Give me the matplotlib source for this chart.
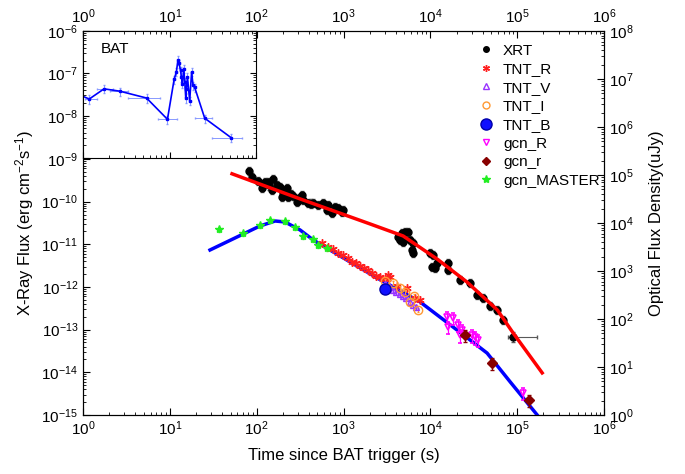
import numpy as np
import matplotlib
matplotlib.use('Agg')
import matplotlib.pyplot as plt
from matplotlib.lines import Line2D
from matplotlib.ticker import LogLocator, NullFormatter, FixedLocator

plt.rcParams['font.family'] = 'Liberation Sans'
plt.rcParams['mathtext.fontset'] = 'custom'
plt.rcParams['mathtext.rm'] = 'Liberation Sans'
plt.rcParams['mathtext.it'] = 'Liberation Sans:italic'
plt.rcParams['mathtext.bf'] = 'Liberation Sans:bold'

# ---- X-ray (XRT), erg cm^-2 s^-1 ----
xrt_t = np.array([82, 89, 104, 115, 125, 135, 155, 150, 172, 186, 224, 201, 196,
                  230, 263, 292, 333, 343, 391, 447, 510, 582, 665, 647, 739, 800,
                  867, 964, 990, 120, 140, 210, 250, 310, 420,
                  4260, 4730, 5130, 5550, 4860, 5850, 6340, 6170, 6340, 4490,
                  9950, 10800, 10500, 12000, 11300, 16000, 16000, 22000, 28700,
                  34600, 40600, 48800, 58800, 69000])
xrt_f = np.array([5.2e-10, 3.8e-10, 3.05e-10, 2.1e-10, 2.9e-10, 2.9e-10, 3.4e-10,
                  1.9e-10, 2.5e-10, 2.2e-10, 2.1e-10, 1.6e-10, 1.3e-10, 1.3e-10,
                  1.35e-10, 9.8e-11, 1.43e-10, 1.09e-10, 9.3e-11, 9.3e-11, 8.4e-11,
                  9.3e-11, 8.4e-11, 6.4e-11, 5.4e-11, 7.5e-11, 7.1e-11, 5.7e-11,
                  6.4e-11, 2.6e-10, 2.4e-10, 1.8e-10, 1.5e-10, 1.2e-10, 9.0e-11,
                  1.49e-11, 1.85e-11, 1.95e-11, 1.95e-11, 1.13e-11, 1.26e-11,
                  1.08e-11, 7.4e-12, 6.3e-12, 1.26e-11,
                  6.3e-12, 5.6e-12, 2.94e-12, 3.65e-12, 2.79e-12, 3.65e-12, 2.51e-12,
                  1.46e-12, 1.24e-12, 6.5e-13, 5.5e-13, 3.6e-13, 2.9e-13, 1.69e-13])
xrt_last_t = [90000]
xrt_last_f = [6.7e-14]
xrt_last_terr = [[11000], [80000]]

# X-ray model curve
xmod_t = [52, 316, 2025, 4860, 12000, 26500, 59000, 90000, 194000]
xmod_f = [4.5e-10, 1.16e-10, 3.0e-11, 1.57e-11, 4.5e-12, 1.3e-12, 2.9e-13, 8.3e-14, 9.7e-15]

# ---- Optical, uJy ----
tntr_t = [567, 665, 759, 867, 990, 1130, 1256, 1396, 1552, 1726, 1919, 2134,
          2374, 2640, 3015, 3264, 3443, 4147, 5408, 6683, 7622]
tntr_f = [3830, 3160, 2870, 2370, 2150, 1870, 1540, 1470, 1270, 1155, 1050, 908,
          787, 750, 681, 826, 750, 487, 442, 274, 249]

tntv_t = [3015, 3443, 3727, 4035, 4490, 4860, 5260, 5850, 6340, 6860]
tntv_f = [536, 464, 402, 365, 332, 301, 274, 226, 196, 178]

tnti_t = [3015, 3727, 4490, 5130, 5850, 6500, 7230]
tnti_f = [619, 562, 442, 365, 226, 301, 154]

tntb_t = [3015]
tntb_f = [422]

gcnR_t = [15600, 16000, 18300, 20900, 23200, 22000, 30300, 32800, 35600, 117000]
gcnR_f = [110, 68, 105, 75, 59, 46, 46, 42, 36.5, 2.87]

gcnr_t = [25200, 51500, 137000]
gcnr_f = [46.4, 12.1, 2.05]

master_t = [36.9, 69.7, 109, 143, 212, 277, 343, 447, 510, 647]
master_f = [7500, 6190, 9090, 11550, 11000, 8250, 5360, 4640, 3480, 3010]

# optical model curve
omod_t = [29, 109, 163, 212, 316, 447, 2440, 7630, 28700, 45000, 83000, 170000, 200000]
omod_f = [2740, 8660, 11000, 10500, 7150, 4430, 714, 226, 36.5, 19.5, 4.9, 1.0, 0.63]

# ---- BAT inset ----
bat_t = [0.85, 1.18, 1.75, 2.67, 5.42, 9.46, 11.3, 12.0, 12.5, 12.9, 13.4, 13.7,
         14.1, 14.6, 15.0, 15.4, 15.7, 16.1, 17.1, 18.0, 18.7, 19.5, 25.5, 51.7]
bat_f = [3.3e-8, 2.47e-8, 4.3e-8, 3.78e-8, 2.61e-8, 8.2e-9, 7.2e-8, 1.08e-7,
         2.05e-7, 1.71e-7, 1.18e-7, 8.2e-8, 5.7e-8, 1.3e-7, 6.2e-8, 2.61e-8,
         4.3e-8, 8.2e-8, 2.25e-8, 1.08e-7, 5.2e-8, 4.7e-8, 8.7e-9, 3.0e-9]
bat_tlo = [0.75, 1.05, 1.44, 2.04, 3.3, 7.3, 11.0, 11.8, 12.3, 12.7, 13.2, 13.5,
           13.9, 14.4, 14.8, 15.2, 15.5, 15.9, 16.7, 17.6, 18.3, 19.1, 19.5, 31.3]
bat_thi = [0.95, 1.44, 2.21, 3.3, 7.7, 12.1, 11.6, 12.2, 12.7, 13.1, 13.6, 13.9,
           14.3, 14.8, 15.2, 15.6, 15.9, 16.3, 17.5, 18.4, 19.1, 19.9, 31.3, 69.7]

fig = plt.figure(figsize=(6.85, 4.74), dpi=100)
ax = fig.add_axes([0.1212, 0.1245, 0.7606, 0.8101])
ax2 = ax.twinx()

for a in (ax, ax2):
    a.set_yscale('log')
ax.set_xscale('log')
ax.set_xlim(1, 1e6)
ax.set_ylim(1e-15, 1e-6)
ax2.set_ylim(1, 1e8)

# X-ray
ax.errorbar(xrt_t, xrt_f, yerr=[xrt_f * 0.2, xrt_f * 0.25], fmt='o', color='black',
            ms=5, ecolor='0.35', elinewidth=0.8, capsize=1.5, zorder=3)
ax.errorbar(xrt_last_t, xrt_last_f, xerr=xrt_last_terr, yerr=[[1.5e-14], [2e-14]],
            fmt='o', color='black', ms=5, ecolor='0.35', elinewidth=0.8, capsize=1.5,
            zorder=3)
ax.plot(xmod_t, xmod_f, color='#ff0000', lw=2.5, zorder=4)

# optical
ax2.plot(omod_t, omod_f, color='#0000ff', lw=2.5, zorder=2)
ax2.errorbar(master_t, master_f, yerr=np.array(master_f) * 0.12, fmt='*', color='#22ee22',
             ms=6, elinewidth=0.8, capsize=1, zorder=3)
ax2.errorbar(tntr_t, tntr_f, yerr=np.array(tntr_f) * 0.12, fmt='none', ecolor='#ff6666',
             elinewidth=0.8, capsize=1, zorder=3)
ax2.plot(tntr_t, tntr_f, ls='none', marker=(6, 2, 0), color='#ff2020', ms=6, mew=1.0,
         zorder=3)
ax2.errorbar(tntv_t, tntv_f, yerr=np.array(tntv_f) * 0.1, fmt='^', mfc='none',
             mec='#9933ff', ecolor='#9933ff', ms=5, mew=1.0, elinewidth=0.8, capsize=1,
             zorder=3)
ax2.errorbar(tnti_t, tnti_f, yerr=np.array(tnti_f) * 0.1, fmt='o', mfc='none',
             mec='#ff9933', ecolor='#ff9933', ms=6, mew=1.0, elinewidth=0.8, capsize=1,
             zorder=3)
ax2.errorbar(tntb_t, tntb_f, fmt='o', color='#1010ff', mec='#0000aa', ms=8, zorder=4)
ax2.errorbar(gcnR_t, gcnR_f, yerr=np.array(gcnR_f) * 0.3, fmt='v', mfc='none',
             mec='#ff00ff', ecolor='#ff00ff', ms=5, mew=1.2, elinewidth=0.9, capsize=1.5,
             zorder=3)
ax2.errorbar(gcnr_t, gcnr_f, yerr=np.array(gcnr_f) * 0.3, fmt='D', color='#880000',
             ms=5, elinewidth=0.9, capsize=1.5, zorder=4)


def minor_decades(lo, hi):
    # minor tick positions 2..9 x 10^n inside [10^lo, 10^hi]
    return [m * 10.0 ** n for n in range(lo, hi) for m in range(2, 10)]


# ticks: only decades inside the limits
ax.xaxis.set_major_locator(FixedLocator([10.0 ** n for n in range(0, 7)]))
ax.xaxis.set_minor_locator(FixedLocator(minor_decades(0, 6)))
ax.xaxis.set_minor_formatter(NullFormatter())
ax.yaxis.set_major_locator(FixedLocator([10.0 ** n for n in range(-15, -5)]))
ax.yaxis.set_minor_locator(FixedLocator(minor_decades(-15, -6)))
ax.yaxis.set_minor_formatter(NullFormatter())
ax2.yaxis.set_major_locator(FixedLocator([10.0 ** n for n in range(0, 9)]))
ax2.yaxis.set_minor_locator(FixedLocator(minor_decades(0, 8)))
ax2.yaxis.set_minor_formatter(NullFormatter())

ax.tick_params(which='both', direction='in', top=True, labeltop=True, right=False,
               labelsize=11)
ax.tick_params(which='major', length=5, width=0.8)
ax.tick_params(which='minor', length=2.5, width=0.6)
ax2.tick_params(which='both', direction='in', labelsize=11)
ax2.tick_params(which='major', length=5, width=0.8)
ax2.tick_params(which='minor', length=2.5, width=0.6)

ax.set_xlabel('Time since BAT trigger (s)', fontsize=12, labelpad=7)
ax.set_ylabel('X-Ray Flux (erg cm$^{-2}$s$^{-1}$)', fontsize=12)
ax2.set_ylabel('Optical Flux Density(uJy)', fontsize=12, labelpad=11)

handles = [
    Line2D([], [], ls='none', marker='o', color='black', ms=4),
    Line2D([], [], ls='none', marker=(6, 2, 0), color='#ff2020', ms=5),
    Line2D([], [], ls='none', marker='^', mfc='none', mec='#9933ff', ms=5),
    Line2D([], [], ls='none', marker='o', mfc='none', mec='#ff9933', ms=5),
    Line2D([], [], ls='none', marker='o', color='#1010ff', mec='#0000aa', ms=8),
    Line2D([], [], ls='none', marker='v', mfc='none', mec='#ff00ff', ms=5),
    Line2D([], [], ls='none', marker='D', color='#880000', ms=4),
    Line2D([], [], ls='none', marker='*', color='#22ee22', ms=6),
]
labels = ['XRT', 'TNT_R', 'TNT_V', 'TNT_I', 'TNT_B', 'gcn_R', 'gcn_r', 'gcn_MASTER']
leg = ax2.legend(handles, labels, loc='upper right', bbox_to_anchor=(1.012, 0.995),
                 frameon=False, fontsize=11, handlelength=1.0, handletextpad=0.6,
                 labelspacing=0.3, borderpad=0.2)

# BAT inset
axin = fig.add_axes([0.1212, 0.6667, 0.2526, 0.2679])
axin.set_xscale('log')
axin.set_yscale('log')
axin.set_xlim(1, 100)
axin.set_ylim(1e-9, 1e-6)
bat_terr = [np.array(bat_t) - np.array(bat_tlo), np.array(bat_thi) - np.array(bat_t)]
bat_ferr = np.array(bat_f) * 0.22
axin.errorbar(bat_t, bat_f, xerr=bat_terr, yerr=bat_ferr, fmt='none', ecolor='#8899ff',
              elinewidth=0.7, capsize=1)
axin.plot(bat_t, bat_f, color='#0000ff', lw=1.2, marker='s', ms=2)
axin.text(0.1, 0.86, 'BAT', transform=axin.transAxes, fontsize=11, va='center')
axin.xaxis.set_major_locator(FixedLocator([1, 10, 100]))
axin.xaxis.set_minor_locator(FixedLocator(minor_decades(0, 2)))
axin.yaxis.set_major_locator(FixedLocator([1e-9, 1e-8, 1e-7, 1e-6]))
axin.yaxis.set_minor_locator(FixedLocator(minor_decades(-9, -6)))
axin.tick_params(which='both', direction='in', top=True, right=True,
                 labelleft=False, labelbottom=False)
axin.tick_params(which='major', length=4, width=0.8)
axin.tick_params(which='minor', length=2, width=0.6)

fig.savefig('out.png', dpi=100)
